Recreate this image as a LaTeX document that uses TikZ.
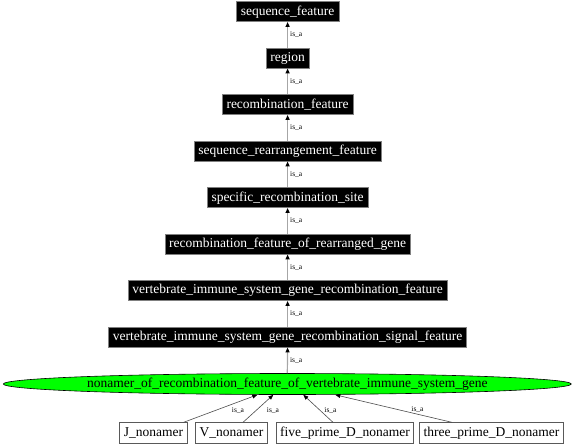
\documentclass[tikz,border=0pt]{standalone}
\usepackage{fontspec}
\setmainfont{Liberation Serif}
\usetikzlibrary{arrows.meta,shapes.geometric}
\begin{document}
\begin{tikzpicture}[x=1bp,y=-1bp,
  mainfont/.style={font=\fontsize{13.5bp}{15bp}\selectfont},
  cls/.style={mainfont,fill=black,text=white,draw=black!50,line width=0.5bp,inner xsep=4.3bp,inner ysep=0pt,minimum height=20bp},
  leaf/.style={mainfont,fill=white,draw=black!65,line width=0.8bp,inner xsep=4bp,inner ysep=0pt,minimum height=20.5bp},
  term/.style={mainfont,ellipse,fill=green,draw=black,line width=0.6bp,minimum width=568bp,minimum height=21bp,inner sep=0pt},
  isa/.style={draw=black!35,line width=1.2bp,-{Triangle[length=5bp,width=4bp,black]}},
  isb/.style={draw=black!70,line width=0.6bp,-{Triangle[length=5bp,width=4bp,black]}},
  lbl/.style={font=\fontsize{7.5bp}{8bp}\selectfont,inner sep=0pt}]
\useasboundingbox (0,0) rectangle (576,445);
\node[cls] (n1) at (287.6,11.7) {sequence\_feature};
\node[cls] (n2) at (287.6,58.2) {region};
\node[cls] (n3) at (287.6,104.7) {recombination\_feature};
\node[cls] (n4) at (287.6,151.2) {sequence\_rearrangement\_feature};
\node[cls] (n5) at (287.6,197.7) {specific\_recombination\_site};
\node[cls] (n6) at (287.6,244.2) {recombination\_feature\_of\_rearranged\_gene};
\node[cls] (n7) at (287.6,290.7) {vertebrate\_immune\_system\_gene\_recombination\_feature};
\node[cls] (n8) at (287.6,337.2) {vertebrate\_immune\_system\_gene\_recombination\_signal\_feature};
\node[term] (t) at (287.3,384) {nonamer\_of\_recombination\_feature\_of\_vertebrate\_immune\_system\_gene};
\node[leaf] (j) at (153.5,433) {J\_nonamer};
\node[leaf] (v) at (231.5,433) {V\_nonamer};
\node[leaf] (f) at (345,433) {five\_prime\_D\_nonamer};
\node[leaf] (th) at (491.5,433) {three\_prime\_D\_nonamer};
\draw[isa] (n2.north) -- node[lbl,anchor=west,xshift=2bp] (l1) {is\_a} (n1.south);
\draw[isa] (n3.north) -- node[lbl,anchor=west,xshift=2bp] (l2) {is\_a} (n2.south);
\draw[isa] (n4.north) -- node[lbl,anchor=west,xshift=2bp] (l3) {is\_a} (n3.south);
\draw[isa] (n5.north) -- node[lbl,anchor=west,xshift=2bp] (l4) {is\_a} (n4.south);
\draw[isa] (n6.north) -- node[lbl,anchor=west,xshift=2bp] (l5) {is\_a} (n5.south);
\draw[isa] (n7.north) -- node[lbl,anchor=west,xshift=2bp] (l6) {is\_a} (n6.south);
\draw[isa] (n8.north) -- node[lbl,anchor=west,xshift=2bp] (l7) {is\_a} (n7.south);
\draw[isa] (t.north) -- node[lbl,anchor=west,xshift=2bp] (l8) {is\_a} (n8.south);
\draw[isb] ([xshift=-4bp]j.north east) -- ([xshift=-30bp]t.south);
\draw[isb] ([xshift=11.5bp]v.north) -- ([xshift=-14bp]t.south);
\draw[isb] ([xshift=-12bp]f.north) -- ([xshift=16bp]t.south);
\draw[isb] ([xshift=-39.5bp]th.north) -- ([xshift=48bp]t.south);
\node[lbl] (lj) at (238,410) {is\_a};
\node[lbl] (lv) at (273,410) {is\_a};
\node[lbl] (lf) at (330.5,410) {is\_a};
\node[lbl] (lt) at (417.5,409) {is\_a};
\end{tikzpicture}
\end{document}
